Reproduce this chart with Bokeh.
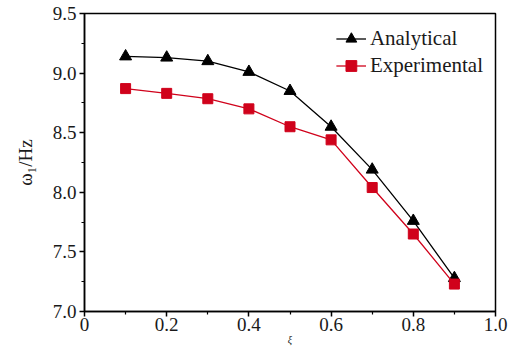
from bokeh.plotting import figure
from bokeh.embed import file_html
from bokeh.resources import INLINE
from bokeh.models import Range1d, FixedTicker, Legend, LegendItem, CustomJSTickFormatter

xi = [0.1, 0.2, 0.3, 0.4, 0.5, 0.6, 0.7, 0.8, 0.9]
analytical = [9.14, 9.13, 9.10, 9.01, 8.85, 8.55, 8.19, 7.76, 7.28]
experimental = [8.87, 8.83, 8.785, 8.70, 8.55, 8.44, 8.04, 7.65, 7.23]
x_ticks = [0, 0.2, 0.4, 0.6, 0.8, 1.0]
x_tick_labels = {0: "0", 0.2: "0.2", 0.4: "0.4", 0.6: "0.6", 0.8: "0.8", 1.0: "1.0"}
y_ticks = [7.0, 7.5, 8.0, 8.5, 9.0, 9.5]

FONT = "Liberation Serif"

p = figure(width=520, height=350, output_backend="svg", toolbar_location=None,
           x_range=Range1d(0, 1.0), y_range=Range1d(7.0, 9.5),
           min_border_left=84, min_border_right=25, min_border_top=13, min_border_bottom=39)
p.background_fill_color = "white"
p.border_fill_color = "white"
p.grid.visible = False
p.outline_line_color = "black"
p.outline_line_width = 1.5

p.xaxis.ticker = FixedTicker(ticks=x_ticks, minor_ticks=[0.1, 0.3, 0.5, 0.7, 0.9])
p.yaxis.ticker = FixedTicker(ticks=y_ticks, minor_ticks=[7.25, 7.75, 8.25, 8.75, 9.25])
p.xaxis.major_label_overrides = {k: v for k, v in x_tick_labels.items()}
p.yaxis.formatter = CustomJSTickFormatter(code="return tick.toFixed(1);")

for ax in (p.xaxis[0], p.yaxis[0]):
    ax.axis_line_width = 1.5
    ax.major_tick_line_width = 1.5
    ax.minor_tick_line_width = 1.2
    ax.major_tick_out = 5
    ax.major_tick_in = 0
    ax.minor_tick_out = 3
    ax.minor_tick_in = 0
    ax.major_label_text_font = FONT
    ax.major_label_text_font_size = "19px"
    ax.major_label_text_color = "#1a1a1a"
    ax.axis_label_text_font = FONT
    ax.axis_label_text_font_style = "italic"
    ax.axis_label_text_color = "#1a1a1a"

p.xaxis.axis_label = "ξ"
p.xaxis.axis_label_text_font_size = "10px"
p.xaxis.axis_label_standoff = 0
p.xaxis.major_label_standoff = 1
p.yaxis.major_label_standoff = 3
p.yaxis.axis_label = "ω₁/Hz"
p.yaxis.axis_label_text_font_size = "19px"
p.yaxis.axis_label_text_font_style = "normal"
p.yaxis.axis_label_standoff = 14

la = p.line(xi, analytical, line_color="black", line_width=1.3)
ma = p.scatter(xi, analytical, marker="triangle", size=12, fill_color="black", line_color="black")
le = p.line(xi, experimental, line_color="#d0021b", line_width=1.3)
me = p.scatter(xi, experimental, marker="square", size=10, fill_color="#d0021b", line_color="#d0021b")

legend = Legend(items=[LegendItem(label="Analytical", renderers=[la, ma]),
                       LegendItem(label="Experimental", renderers=[le, me])],
                location="top_right")
legend.label_text_font = FONT
legend.label_text_font_size = "21px"
legend.label_text_color = "#1a1a1a"
legend.border_line_color = None
legend.background_fill_alpha = 0
legend.glyph_width = 30
legend.label_standoff = 4
legend.spacing = 0
legend.padding = 2
legend.margin = 12
legend.label_height = 27
legend.glyph_height = 27
p.add_layout(legend)

open("out.html", "w").write(file_html(p, INLINE))
